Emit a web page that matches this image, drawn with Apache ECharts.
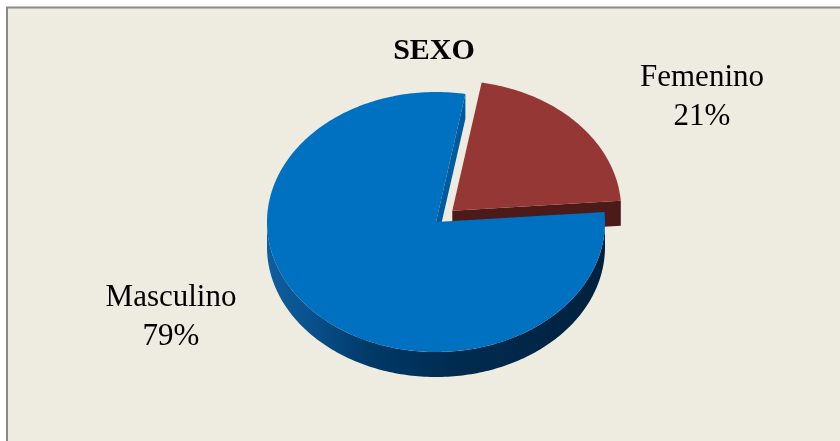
<!DOCTYPE html>
<html>
<head>
<meta charset="utf-8">
<script src="https://cdn.jsdelivr.net/npm/echarts@6/dist/echarts.min.js"></script>
<style>
  html, body { margin: 0; padding: 0; background: #ffffff; }
  #chart { width: 840px; height: 441px; }
</style>
</head>
<body>
<div id="chart"></div>
<script>
// Chart data
const titleText = 'SEXO';
const categories = ['Femenino', 'Masculino'];
const values = [21, 79];

// Styling per category
const topColors = ['#953735', '#0070C0'];
const sideColors = ['#4B1A19', null];
const edgeColors = ['#4B1A19', '#005A9E'];
const explodeDist = [22, 0];
const labelAnchors = [[702, 97], [171, 317]];

// Projected disc geometry (pixels)
const geo = { cx: 436, cy: 222, rx: 169, ry: 130, depth: 25, startDeg: 10 };
const k = geo.ry / geo.rx;
const total = values.reduce((a, b) => a + b, 0);

function sliceAngles(i) {
  let acc = 0;
  for (let j = 0; j < i; j++) acc += values[j];
  const a0 = (geo.startDeg * Math.PI / 180) + acc / total * 2 * Math.PI;
  const a1 = a0 + values[i] / total * 2 * Math.PI;
  return [a0, a1];
}

function project(theta, r, ox, oy, dz) {
  return [geo.cx + ox + r * Math.sin(theta), geo.cy + oy - r * Math.cos(theta) * k + dz];
}

function arcPoints(t0, t1, ox, oy, dz) {
  const pts = [];
  const n = Math.max(2, Math.ceil(Math.abs(t1 - t0) / (Math.PI / 180)));
  for (let s = 0; s <= n; s++) {
    const t = t0 + (t1 - t0) * s / n;
    pts.push(project(t, geo.rx, ox, oy, dz));
  }
  return pts;
}

function blueSide() {
  return new echarts.graphic.LinearGradient(0, 0, 1, 0, [
    { offset: 0, color: '#0E5E9F' },
    { offset: 0.12, color: '#0A528E' },
    { offset: 0.3, color: '#003A68' },
    { offset: 0.55, color: '#002C51' },
    { offset: 1, color: '#00213D' }
  ]);
}

function renderSlice(params, api) {
  const i = params.dataIndex;
  const [a0, a1] = sliceAngles(i);
  const mid = (a0 + a1) / 2;
  const e = explodeDist[i];
  const ox = e * Math.sin(mid);
  const oy = -e * Math.cos(mid) * k;
  const apexTop = [geo.cx + ox, geo.cy + oy];
  const apexBot = [geo.cx + ox, geo.cy + oy + geo.depth];
  const children = [];

  // Radial faces that face the viewer
  if (Math.sin(a0) < 0) {
    const rt = project(a0, geo.rx, ox, oy, 0), rb = project(a0, geo.rx, ox, oy, geo.depth);
    children.push({ type: 'polygon', shape: { points: [apexTop, rt, rb, apexBot] },
      style: { fill: edgeColors[i] } });
  }
  if (Math.sin(a1) > 0) {
    const rt = project(a1, geo.rx, ox, oy, 0), rb = project(a1, geo.rx, ox, oy, geo.depth);
    children.push({ type: 'polygon', shape: { points: [apexTop, rt, rb, apexBot] },
      style: { fill: edgeColors[i] } });
  }

  // Outer wall on the front half of the disc
  const ranges = [[Math.PI / 2, 3 * Math.PI / 2], [Math.PI / 2 + 2 * Math.PI, 3 * Math.PI / 2 + 2 * Math.PI]];
  ranges.forEach(([f0, f1]) => {
    const s0 = Math.max(a0, f0), s1 = Math.min(a1, f1);
    if (s1 > s0) {
      const topArc = arcPoints(s0, s1, ox, oy, 0);
      const botArc = arcPoints(s0, s1, ox, oy, geo.depth).reverse();
      children.push({ type: 'polygon', shape: { points: topArc.concat(botArc) },
        style: { fill: sideColors[i] || blueSide() } });
    }
  });

  // Top face
  children.push({ type: 'polygon', shape: { points: [apexTop].concat(arcPoints(a0, a1, ox, oy, 0)) },
    style: { fill: topColors[i] } });

  // Category label with its percentage
  const share = Math.round(api.value(0) / total * 100);
  children.push({ type: 'text', x: labelAnchors[i][0], y: labelAnchors[i][1],
    style: { text: categories[i] + '\n' + share + '%', fill: '#000000',
      fontFamily: '"Liberation Serif", "Times New Roman", serif', fontSize: 31,
      lineHeight: 39, align: 'center', verticalAlign: 'middle' } });

  return { type: 'group', children };
}

const chart = echarts.init(document.getElementById('chart'), null, { renderer: 'canvas' });
chart.setOption({
  backgroundColor: '#ffffff',
  animation: false,
  title: {
    text: titleText,
    left: 429,
    textAlign: 'center',
    top: 31,
    textStyle: { fontFamily: '"Liberation Serif", "Times New Roman", serif', fontWeight: 'bold',
      fontSize: 30, color: '#000000' }
  },
  graphic: [{
    type: 'rect', z: -10, silent: true,
    shape: { x: 7, y: 7.5, width: 840, height: 440 },
    style: { fill: '#EEEBE1', stroke: '#8A8A8A', lineWidth: 2 }
  }],
  series: [{
    type: 'custom',
    coordinateSystem: 'none',
    renderItem: renderSlice,
    data: values.map((v, i) => ({ name: categories[i], value: [v] }))
  }]
});
</script>
</body>
</html>
